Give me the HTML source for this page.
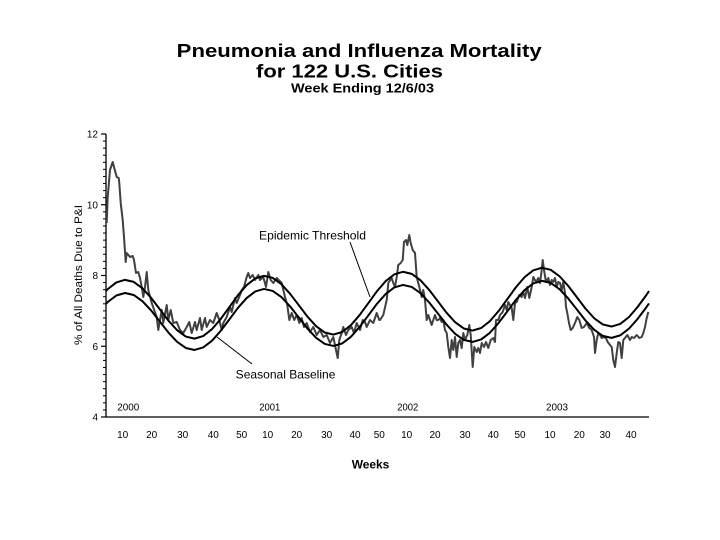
<!DOCTYPE html>
<html>
<head>
<meta charset="utf-8">
<style>
  html, body { margin: 0; padding: 0; background: #ffffff; }
  svg { display: block; }
  text { font-family: "Liberation Sans", Arial, sans-serif; fill: #000; }
</style>
</head>
<body>
<svg width="720" height="540" viewBox="0 0 720 540" xmlns="http://www.w3.org/2000/svg">
  <rect x="0" y="0" width="720" height="540" fill="#ffffff"/>

  <!-- Titles -->
  <text x="176.7" y="57" font-size="18" font-weight="bold" textLength="365" lengthAdjust="spacingAndGlyphs">Pneumonia and Influenza Mortality</text>
  <text x="256" y="77.5" font-size="18" font-weight="bold" textLength="187" lengthAdjust="spacingAndGlyphs">for 122 U.S. Cities</text>
  <text x="291" y="92.3" font-size="13" font-weight="bold" textLength="143" lengthAdjust="spacingAndGlyphs">Week Ending 12/6/03</text>

  <!-- Y axis label -->
  <text transform="translate(82,275) rotate(-90)" font-size="11" text-anchor="middle" textLength="140" lengthAdjust="spacingAndGlyphs">% of All Deaths Due to P&amp;I</text>

  <!-- Axes -->
  <g stroke="#000" stroke-width="1.3" fill="none">
    <line x1="106" y1="134" x2="106" y2="417.5"/>
    <line x1="106" y1="417" x2="649" y2="417"/>
  </g>
  <!-- Major ticks -->
  <g stroke="#000" stroke-width="1.2">
    <line x1="101" y1="134" x2="106" y2="134"/>
    <line x1="101" y1="204.75" x2="106" y2="204.75"/>
    <line x1="101" y1="275.5" x2="106" y2="275.5"/>
    <line x1="101" y1="346.25" x2="106" y2="346.25"/>
    <line x1="101" y1="417" x2="106" y2="417"/>
  </g>
  <!-- Minor ticks every 0.2 -->
  <g stroke="#000" stroke-width="1">
    <line x1="103" y1="141.08" x2="106" y2="141.08"/>
    <line x1="103" y1="148.15" x2="106" y2="148.15"/>
    <line x1="103" y1="155.23" x2="106" y2="155.23"/>
    <line x1="103" y1="162.3" x2="106" y2="162.3"/>
    <line x1="103" y1="169.38" x2="106" y2="169.38"/>
    <line x1="103" y1="176.45" x2="106" y2="176.45"/>
    <line x1="103" y1="183.53" x2="106" y2="183.53"/>
    <line x1="103" y1="190.6" x2="106" y2="190.6"/>
    <line x1="103" y1="197.68" x2="106" y2="197.68"/>
    <line x1="103" y1="211.83" x2="106" y2="211.83"/>
    <line x1="103" y1="218.9" x2="106" y2="218.9"/>
    <line x1="103" y1="225.98" x2="106" y2="225.98"/>
    <line x1="103" y1="233.05" x2="106" y2="233.05"/>
    <line x1="103" y1="240.13" x2="106" y2="240.13"/>
    <line x1="103" y1="247.2" x2="106" y2="247.2"/>
    <line x1="103" y1="254.28" x2="106" y2="254.28"/>
    <line x1="103" y1="261.35" x2="106" y2="261.35"/>
    <line x1="103" y1="268.43" x2="106" y2="268.43"/>
    <line x1="103" y1="282.58" x2="106" y2="282.58"/>
    <line x1="103" y1="289.65" x2="106" y2="289.65"/>
    <line x1="103" y1="296.73" x2="106" y2="296.73"/>
    <line x1="103" y1="303.8" x2="106" y2="303.8"/>
    <line x1="103" y1="310.88" x2="106" y2="310.88"/>
    <line x1="103" y1="317.95" x2="106" y2="317.95"/>
    <line x1="103" y1="325.03" x2="106" y2="325.03"/>
    <line x1="103" y1="332.1" x2="106" y2="332.1"/>
    <line x1="103" y1="339.18" x2="106" y2="339.18"/>
    <line x1="103" y1="353.33" x2="106" y2="353.33"/>
    <line x1="103" y1="360.4" x2="106" y2="360.4"/>
    <line x1="103" y1="367.48" x2="106" y2="367.48"/>
    <line x1="103" y1="374.55" x2="106" y2="374.55"/>
    <line x1="103" y1="381.63" x2="106" y2="381.63"/>
    <line x1="103" y1="388.7" x2="106" y2="388.7"/>
    <line x1="103" y1="395.78" x2="106" y2="395.78"/>
    <line x1="103" y1="402.85" x2="106" y2="402.85"/>
    <line x1="103" y1="409.93" x2="106" y2="409.93"/>
  </g>

  <!-- Y tick labels -->
  <g font-size="10" text-anchor="end">
    <text x="98" y="137.6">12</text>
    <text x="98" y="208.4">10</text>
    <text x="98" y="279.1">8</text>
    <text x="98" y="349.9">6</text>
    <text x="98" y="420.6">4</text>
  </g>

  <!-- Year labels -->
  <g font-size="10">
    <text x="117.3" y="410.5" textLength="22" lengthAdjust="spacingAndGlyphs">2000</text>
    <text x="259.3" y="410.5" textLength="21" lengthAdjust="spacingAndGlyphs">2001</text>
    <text x="397.3" y="410.5" textLength="21" lengthAdjust="spacingAndGlyphs">2002</text>
    <text x="546" y="410.5" textLength="22" lengthAdjust="spacingAndGlyphs">2003</text>
  </g>

  <!-- X tick labels -->
  <g font-size="10" text-anchor="middle">
    <text x="122.7" y="438">10</text>
    <text x="151.7" y="438">20</text>
    <text x="182.7" y="438">30</text>
    <text x="213.3" y="438">40</text>
    <text x="241.7" y="438">50</text>
    <text x="267.7" y="438">10</text>
    <text x="296.7" y="438">20</text>
    <text x="326.7" y="438">30</text>
    <text x="355" y="438">40</text>
    <text x="379.3" y="438">50</text>
    <text x="406.7" y="438">10</text>
    <text x="435" y="438">20</text>
    <text x="465" y="438">30</text>
    <text x="493.3" y="438">40</text>
    <text x="520" y="438">50</text>
    <text x="550" y="438">10</text>
    <text x="579.3" y="438">20</text>
    <text x="605" y="438">30</text>
    <text x="631" y="438">40</text>
  </g>

  <!-- X axis title -->
  <text x="351.7" y="468.3" font-size="12" font-weight="bold" textLength="37.6" lengthAdjust="spacingAndGlyphs">Weeks</text>

  <!-- Data series -->
  <polyline fill="none" stroke="#404040" stroke-width="2" stroke-linejoin="round" points="
106.7,223 107.7,197 110,170 112.7,162 114,167 116.7,177 118.7,178 119.3,183 120.7,203 122.7,220 124,237 125.7,262 126.7,253 130,257 132.7,256 134,260 136,273 138.3,272 140,278 141.7,287 143.3,297 145,287 146.7,272
148.3,290 151.7,303 156.7,317 158.3,330 161.7,310 163.3,323 166.7,305 168.3,320 170.7,310 173.3,323 176.7,322 180,330 183.3,333 186.7,327 189.3,322 191.7,333 195,322 196.7,330 200,318 201.7,330 205,318 206.7,327 210,320 213.3,323 216.7,313 219.3,320 221.7,330 223.3,323 226.7,317 230,307 231.7,312 235,298 236.7,303 240,295 241.7,290 244,287 246.7,277 248.3,273 250,278 252.7,275 255,280 258.3,275 260,280 263.3,277 266,287 268.3,272 270.7,280 273.3,283 276.7,278
281.7,283 285,297 287.3,305 289.3,320 291.7,313 294.3,320 296.7,315 299.3,323 301.7,318 304,327 306.7,323 310,332 313.3,327 316.7,335 320,330 323.3,337 326.7,335 330,343 333.3,337 336,350 337.7,358 339.3,340 341.7,333 343.3,327 346,335 348.3,330 351.7,327 354,333 356.7,323 360,330 362.7,320 365,322 366.7,327 370,320 373.3,323 376.7,313 379.3,320
380,320 383.3,315 386.7,300 388.3,283 391.7,278 393.3,283 395,287 396.7,277 398.3,265 400.7,263 402.7,260 404,242 406,240 407.3,245 409.3,235 410.7,243 412.7,250 415,253 416.7,277 419.3,287 421.7,297 423.3,290 425,300 426.7,320 428.3,315 430,320 431.7,325 433.3,320 435,315 436.7,320 438.3,320 440,318 441.7,322 443.3,320 445,330 446.7,333 448.3,347 450,358 451.7,340 453.3,350 455,337 456.7,357 458.3,343 460,340 461.7,348 463.3,333 465,340 467.3,335 469.3,325 470.7,335 472.7,367 474.3,347 476.7,352 478.3,348 480,353 481.7,343 484,347 486,342 488.3,348 490.7,340 493.3,338 495,342 496,320 498.3,320 500,315 502.7,312 505,305 506.7,310 508.3,302 511.7,308 513.3,320 515,303 516.7,302 519.3,295 521.7,297 523.3,292 525,298 527.3,287 529.3,298 531.7,287 533.3,277 536,282 538.3,278 540,283 541.7,270 542.7,260 544,270 546,282 548.3,278 550,285 551.7,280 553.3,282 555,278 556.7,287 558.3,282 560,283 561.7,290 563.3,282 565,293 566,307 567.3,313 569,323 570.7,330 572.7,328 575,323 577.3,317 579.3,320 581.7,328 584,327 586.7,323 589.3,328 591.7,330 594,337 595,353 596.7,340 598.3,333 600,335 601.7,338 603.3,337 606,338 607.7,342 610,345 611.7,347 613.3,360 615,367 616.7,353 618.3,342 620,343 621.7,358 623.3,340 625,338 627.3,335 630,340 631.7,337 634,338 636.7,335 639.3,338 641.7,337 643.3,333 645,327 646.7,318 648.3,312"/>

  <!-- Seasonal baseline -->
  <polyline fill="none" stroke="#000" stroke-width="2" stroke-linejoin="round" points="
106,303.8 107.6,302.13 116.3,295.49 125,292.99 133.7,294.99 142.4,301.13 151.1,310.44 159.8,321.48 168.4,332.52 177.1,341.84 185.8,347.98 194.5,349.97 203.2,347.47 211.9,340.83 220.6,331.01 229.3,319.47 237.9,307.92 246.6,298.10 255.3,291.46 264,288.96 272.7,290.96 281.4,297.09 290.1,306.41 298.8,317.45 307.4,328.49 316.1,337.81 324.8,343.94 333.5,345.94 342.2,343.44 350.9,336.80 359.6,326.98 368.3,315.43 376.9,303.89 385.6,294.07 394.3,287.43 403,284.93 411.7,286.92 420.4,293.06 429.1,302.38 437.8,313.42 446.4,324.46 455.1,333.77 463.8,339.91 472.5,341.91 481.2,339.41 489.9,332.77 498.6,322.94 507.3,311.40 515.9,299.86 524.6,290.04 533.3,283.40 542,280.89 550.7,282.89 559.4,289.03 568.1,298.35 576.8,309.39 585.4,320.42 594.1,329.74 602.8,335.88 611.5,337.88 620.2,335.38 628.9,328.73 637.6,318.91 646.3,307.37 649,303.4"/>

  <!-- Epidemic threshold -->
  <polyline fill="none" stroke="#000" stroke-width="2" stroke-linejoin="round" points="
106,291.1 107.6,289.24 116.3,282.41 125,279.84 133.7,281.91 142.4,288.24 151.1,297.85 159.8,309.23 168.4,320.61 177.1,330.23 185.8,336.56 194.5,338.62 203.2,336.05 211.9,329.22 220.6,319.10 229.3,307.22 237.9,295.33 246.6,285.21 255.3,278.38 264,275.81 272.7,277.88 281.4,284.20 290.1,293.82 298.8,305.20 307.4,316.58 316.1,326.20 324.8,332.52 333.5,334.59 342.2,332.02 350.9,325.19 359.6,315.07 368.3,303.18 376.9,291.30 385.6,281.18 394.3,274.35 403,271.78 411.7,273.84 420.4,280.17 429.1,289.79 437.8,301.17 446.4,312.55 455.1,322.16 463.8,328.49 472.5,330.56 481.2,327.99 489.9,321.16 498.6,311.03 507.3,299.15 515.9,287.27 524.6,277.15 533.3,270.32 542,267.74 550.7,269.81 559.4,276.14 568.1,285.76 576.8,297.14 585.4,308.51 594.1,318.13 602.8,324.46 611.5,326.53 620.2,323.96 628.9,317.12 637.6,307.00 646.3,295.12 649,291.0"/>

  <!-- Annotations -->
  <text x="259" y="239.5" font-size="12" textLength="107" lengthAdjust="spacingAndGlyphs">Epidemic Threshold</text>
  <line x1="350" y1="242" x2="370" y2="297" stroke="#000" stroke-width="1"/>

  <text x="235.7" y="378.7" font-size="12" textLength="99.7" lengthAdjust="spacingAndGlyphs">Seasonal Baseline</text>
  <line x1="217" y1="337" x2="252" y2="364" stroke="#000" stroke-width="1"/>
</svg>
</body>
</html>
